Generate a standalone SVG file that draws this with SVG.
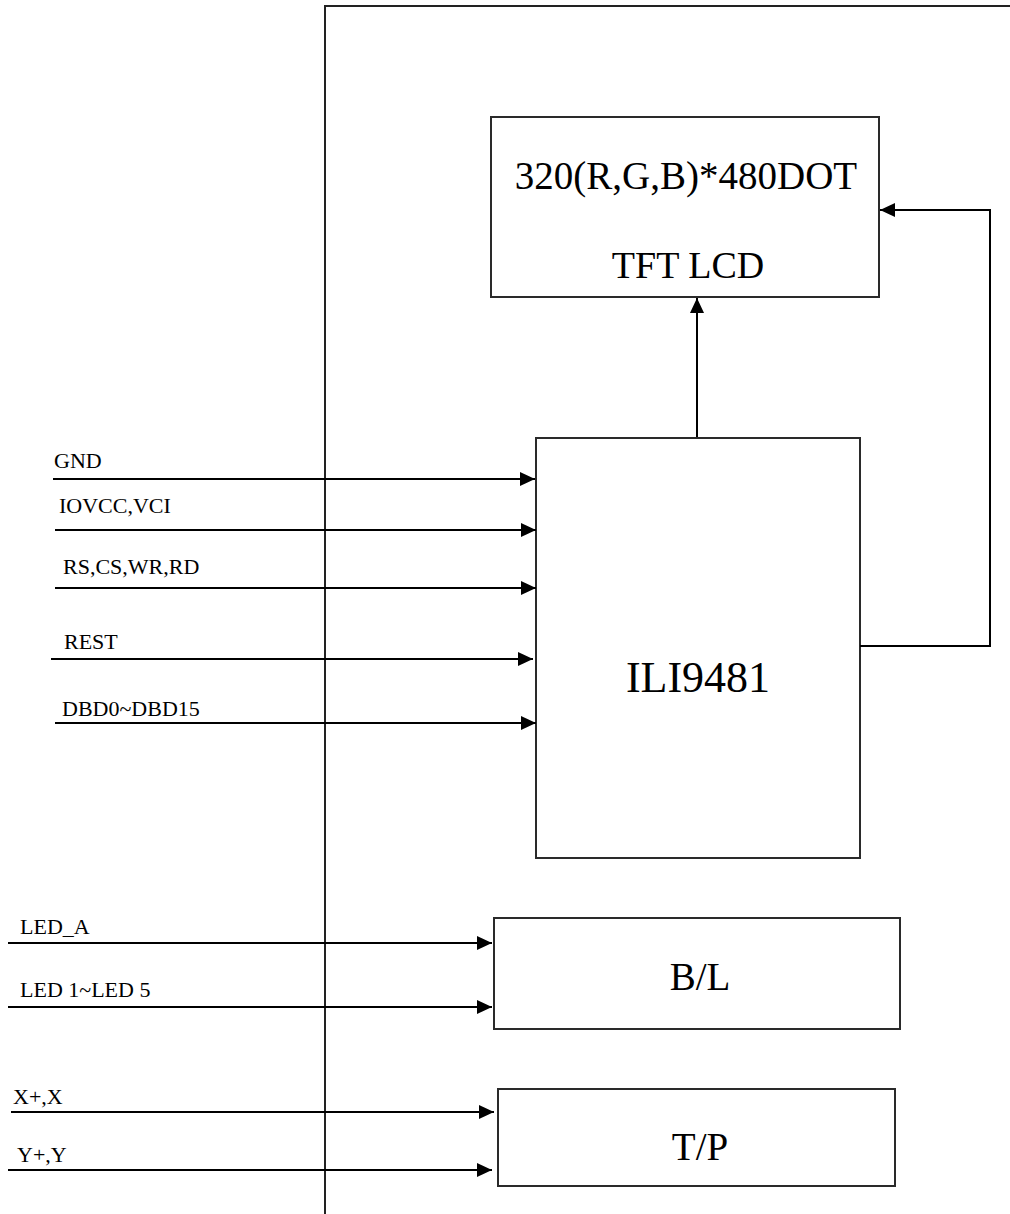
<svg xmlns="http://www.w3.org/2000/svg" width="1010" height="1214" viewBox="0 0 1010 1214">
<style>
.box{fill:#fff;stroke:#2a2a2a;stroke-width:2}
.ln{fill:none;stroke:#000;stroke-width:2}
.frame{fill:none;stroke:#222;stroke-width:2}
.lbl{font-family:"Liberation Serif","Times New Roman",serif;font-size:22px;fill:#000}
.big{font-family:"Liberation Serif","Times New Roman",serif;font-size:38px;fill:#000;text-anchor:middle}
</style>
<defs>
<marker id="ah" viewBox="0 0 15 14" refX="15" refY="7" markerWidth="15" markerHeight="14" markerUnits="userSpaceOnUse" orient="auto">
<path d="M0,0 L15,7 L0,14 z" fill="#000"/>
</marker>
</defs>
<rect width="1010" height="1214" fill="#fff"/>
<g id="frame">
<polyline class="frame" points="325,1214 325,6 1010,6"/>
</g>
<g id="tft">
<rect class="box" x="491" y="117" width="388" height="180"/>
<text class="big" x="686" y="189" style="font-size:39px">320(R,G,B)*480DOT</text>
<text class="big" x="688" y="278">TFT LCD</text>
</g>
<g id="ili9481">
<rect class="box" x="536" y="438" width="324" height="420"/>
<text class="big" x="698" y="692" style="font-size:44px">ILI9481</text>
</g>
<g id="bl">
<rect class="box" x="494" y="918" width="406" height="111"/>
<text class="big" x="700" y="990" style="font-size:39px">B/L</text>
</g>
<g id="tp">
<rect class="box" x="498" y="1089" width="397" height="97"/>
<text class="big" x="700" y="1160" style="font-size:39px">T/P</text>
</g>
<g id="connectors">
<line class="ln" x1="697" y1="437" x2="697" y2="298" marker-end="url(#ah)"/>
<polyline class="ln" points="860,646 990,646 990,210 880,210" marker-end="url(#ah)"/>
<line class="ln" x1="53" y1="479" x2="535" y2="479" marker-end="url(#ah)"/>
<line class="ln" x1="55" y1="530" x2="536" y2="530" marker-end="url(#ah)"/>
<line class="ln" x1="55" y1="588" x2="536" y2="588" marker-end="url(#ah)"/>
<line class="ln" x1="51" y1="659" x2="533" y2="659" marker-end="url(#ah)"/>
<line class="ln" x1="55" y1="723" x2="536" y2="723" marker-end="url(#ah)"/>
<line class="ln" x1="8" y1="943" x2="492" y2="943" marker-end="url(#ah)"/>
<line class="ln" x1="8" y1="1007" x2="492" y2="1007" marker-end="url(#ah)"/>
<line class="ln" x1="11" y1="1112" x2="494" y2="1112" marker-end="url(#ah)"/>
<line class="ln" x1="8" y1="1170" x2="492" y2="1170" marker-end="url(#ah)"/>
</g>
<g id="labels">
<text class="lbl" x="54" y="468">GND</text>
<text class="lbl" x="59" y="513">IOVCC,VCI</text>
<text class="lbl" x="63" y="574">RS,CS,WR,RD</text>
<text class="lbl" x="64" y="649">REST</text>
<text class="lbl" x="62" y="716">DBD0~DBD15</text>
<text class="lbl" x="20" y="934">LED_A</text>
<text class="lbl" x="20" y="997">LED 1~LED 5</text>
<text class="lbl" x="13" y="1104">X+,X</text>
<text class="lbl" x="17" y="1162">Y+,Y</text>
</g>
</svg>
